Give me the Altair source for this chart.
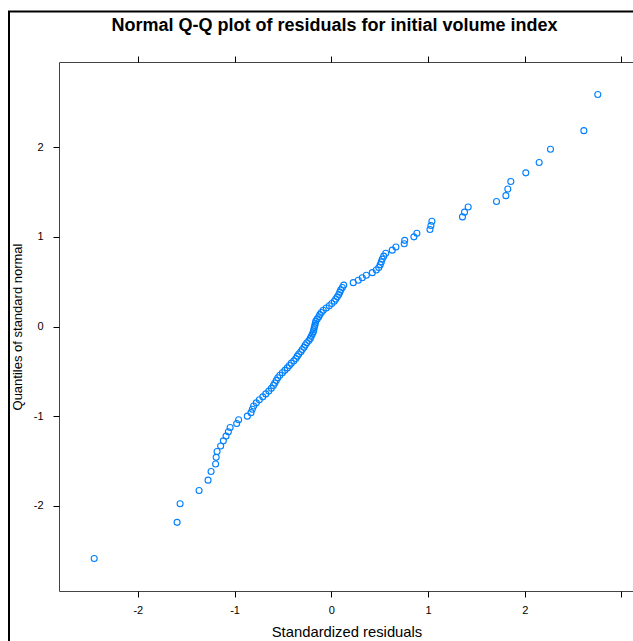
import altair as alt
import pandas as pd

# Sorted standardized residuals (x)
std_residuals = [
    -2.451, -1.594, -1.563, -1.367, -1.274, -1.243, -1.196, -1.190, -1.181, -1.144,
    -1.116, -1.088, -1.064, -1.046, -0.978, -0.958, -0.868, -0.830, -0.816, -0.803,
    -0.775, -0.744, -0.708, -0.677, -0.646, -0.620, -0.599, -0.584, -0.568, -0.553,
    -0.532, -0.506, -0.480, -0.455, -0.434, -0.413, -0.387, -0.367, -0.351, -0.336,
    -0.315, -0.300, -0.282, -0.269, -0.253, -0.232, -0.217, -0.207, -0.196, -0.186,
    -0.181, -0.176, -0.170, -0.165, -0.160, -0.145, -0.129, -0.119, -0.103, -0.083,
    -0.052, -0.021, 0.005, 0.031, 0.046, 0.062, 0.077, 0.088, 0.098, 0.114,
    0.129, 0.227, 0.279, 0.320, 0.362, 0.424, 0.465, 0.491, 0.506, 0.517,
    0.527, 0.542, 0.563, 0.630, 0.668, 0.754, 0.759, 0.854, 0.885, 1.020,
    1.030, 1.040, 1.356, 1.377, 1.415, 1.708, 1.805, 1.825, 1.856, 2.011,
    2.149, 2.266, 2.611, 2.755,
]

# Quantiles of the standard normal (y)
normal_quantiles = [
    -2.589, -2.185, -1.977, -1.829, -1.714, -1.617, -1.534, -1.460, -1.394, -1.333,
    -1.276, -1.223, -1.174, -1.127, -1.083, -1.041, -1.000, -0.961, -0.924, -0.887,
    -0.852, -0.818, -0.785, -0.752, -0.721, -0.690, -0.659, -0.630, -0.601, -0.572,
    -0.544, -0.516, -0.489, -0.462, -0.435, -0.409, -0.383, -0.357, -0.331, -0.306,
    -0.281, -0.256, -0.231, -0.206, -0.182, -0.157, -0.133, -0.109, -0.085, -0.060,
    -0.036, -0.012,
    0.012, 0.036, 0.060, 0.085, 0.109, 0.133, 0.157, 0.182, 0.206, 0.231,
    0.256, 0.281, 0.306, 0.331, 0.357, 0.383, 0.409, 0.435, 0.462, 0.489,
    0.516, 0.544, 0.572, 0.601, 0.630, 0.659, 0.690, 0.721, 0.752, 0.785,
    0.818, 0.852, 0.887, 0.924, 0.961, 1.000, 1.041, 1.083, 1.127, 1.174,
    1.223, 1.276, 1.333, 1.394, 1.460, 1.534, 1.617, 1.714, 1.829, 1.977,
    2.185, 2.589,
]

x_ticks = [-2, -1, 0, 1, 2, 3]
y_ticks = [-2, -1, 0, 1, 2]
title_text = ["Normal Q-Q plot of residuals for initial volume index"]

df = pd.DataFrame({"resid": std_residuals, "q": normal_quantiles})

X_DOMAIN = [-2.815, 3.119]
Y_DOMAIN = [-2.951, 2.951]
W, H = 574, 529
FONT = "Liberation Sans"
POINT_COLOR = "#0080ff"

xscale = alt.Scale(domain=X_DOMAIN, nice=False, zero=False)
yscale = alt.Scale(domain=Y_DOMAIN, nice=False, zero=False)

points = alt.Chart(df).mark_point(
    shape="circle", filled=False, color=POINT_COLOR, size=36, strokeWidth=1.1, opacity=1
).encode(
    x=alt.X(
        "resid:Q",
        scale=xscale,
        axis=alt.Axis(
            orient="bottom",
            values=x_ticks,
            labelExpr="datum.value == 3 ? '' : toString(datum.value)",
            title="Standardized residuals",
            titleX=287.5,
            titleY=41,
            titleBaseline="middle",
            titleAlign="center",
            titleFontSize=14.8,
            titleFontWeight="normal",
            titleFont=FONT,
            titleColor="#000000",
            labelFont=FONT,
            labelFontSize=11,
            labelColor="#000000",
            labelPadding=7,
            tickSize=6,
            tickColor="#000000",
            domain=False,
            grid=False,
        ),
    ),
    y=alt.Y(
        "q:Q",
        scale=yscale,
        axis=alt.Axis(
            orient="left",
            values=y_ticks,
            labelExpr="toString(datum.value)",
            title="Quantiles of standard normal",
            titleX=-42,
            titleY=264.5,
            titleBaseline="middle",
            titleAlign="center",
            titleAngle=270,
            titleFontSize=13,
            titleFontWeight="normal",
            titleFont=FONT,
            titleColor="#000000",
            labelFont=FONT,
            labelFontSize=11,
            labelColor="#000000",
            labelPadding=10,
            tickSize=6,
            tickColor="#000000",
            domain=False,
            grid=False,
        ),
    ),
)

top_ticks = alt.Chart(df).mark_point(opacity=0).encode(
    x=alt.X(
        "resid:Q",
        scale=xscale,
        axis=alt.Axis(
            orient="top",
            values=x_ticks,
            labels=False,
            title="",
            tickSize=6,
            tickColor="#000000",
            domain=False,
            grid=False,
        ),
    ),
)

title_layer = alt.Chart(pd.DataFrame({"t": title_text})).mark_text(
    font=FONT, fontSize=18, fontWeight="bold", color="#000000",
    align="center", baseline="alphabetic",
).encode(
    text="t:N",
    x=alt.value(275.5),
    y=alt.value(-31),
)

outer = alt.Chart(pd.DataFrame({"k": [0]})).mark_rect(
    fillOpacity=0, stroke="#000000", strokeWidth=2
).encode(
    x=alt.value(-50),
    x2=alt.value(700),
    y=alt.value(-50.5),
    y2=alt.value(700),
)

chart = alt.layer(points, top_ticks, title_layer, outer).resolve_axis(
    x="independent"
).properties(
    width=W,
    height=H,
    autosize=alt.AutoSizeParams(type="none"),
    padding={"left": 59, "top": 62, "right": 0, "bottom": 50},
    background="#ffffff",
).configure_view(
    stroke="#444444", strokeWidth=1
)

chart.save("out.html", embed_options={"renderer": "svg", "actions": False})
